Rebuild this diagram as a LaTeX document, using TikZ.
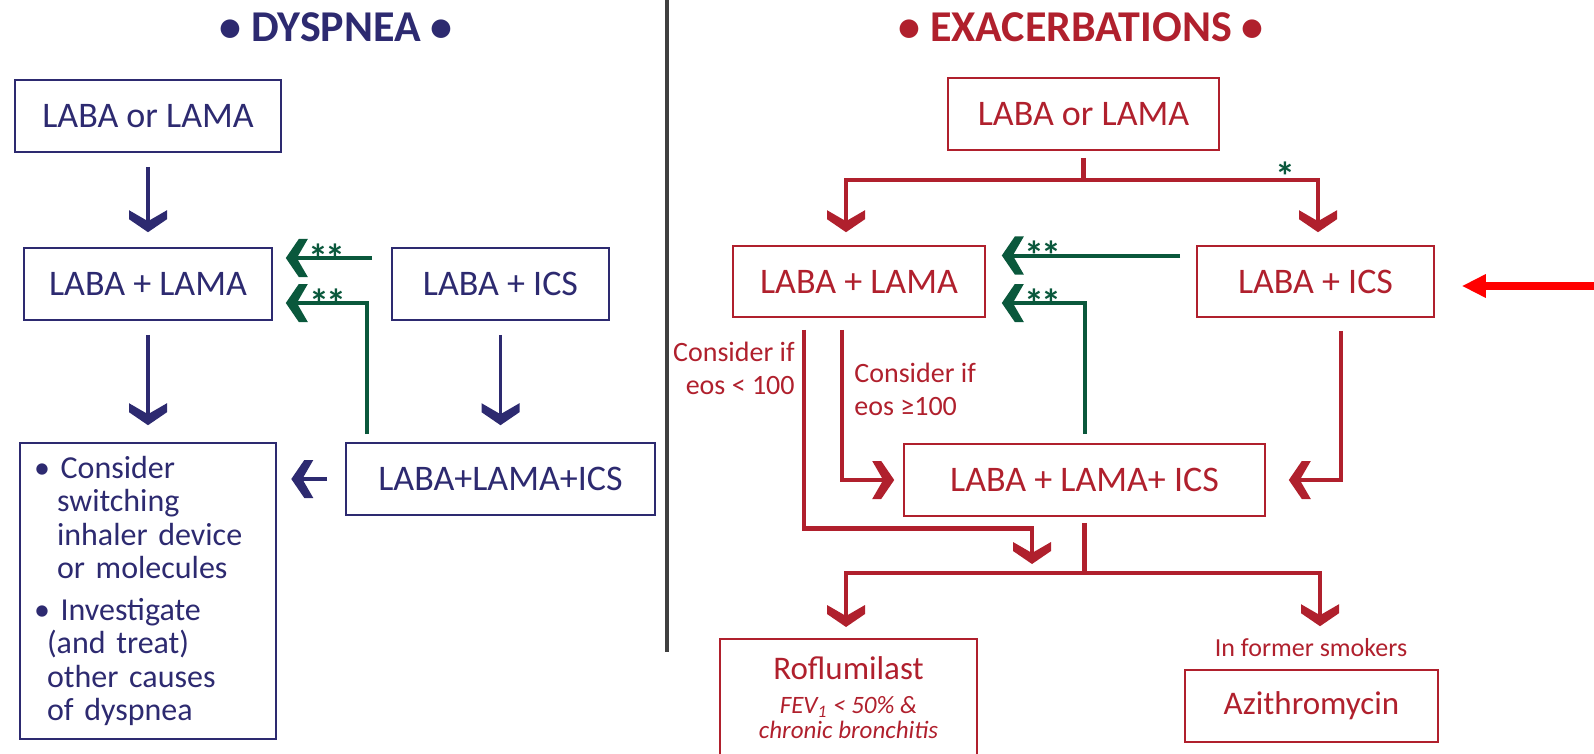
\documentclass[tikz,border=0pt]{standalone}
\usepackage{fontspec}
\setmainfont{Carlito}
\usetikzlibrary{arrows.meta}

\definecolor{dnavy}{RGB}{45,42,112}
\definecolor{ered}{RGB}{176,32,45}
\definecolor{sgreen}{RGB}{10,88,60}
\definecolor{divgray}{RGB}{64,64,64}
\definecolor{bigred}{RGB}{255,0,0}

\pgfdeclarearrow{
  name = Chev,
  setup code = {
    \pgfarrowssettipend{0pt}
    \pgfarrowssetlineend{-5.5pt}
    \pgfarrowssetbackend{-11pt}
    \pgfarrowssetvisualbackend{-11pt}
    \pgfarrowshullpoint{0pt}{0pt}
    \pgfarrowsupperhullpoint{-11pt}{9.5pt}
  },
  drawing code = {
    \pgfpathmoveto{\pgfqpoint{0pt}{0pt}}
    \pgfpathlineto{\pgfqpoint{-6.5pt}{9.5pt}}
    \pgfpathlineto{\pgfqpoint{-11pt}{9.5pt}}
    \pgfpathlineto{\pgfqpoint{-5.5pt}{0pt}}
    \pgfpathlineto{\pgfqpoint{-11pt}{-9.5pt}}
    \pgfpathlineto{\pgfqpoint{-6.5pt}{-9.5pt}}
    \pgfpathclose
    \pgfusepathqfill
  }
}

\newcommand{\twostars}{*\kern-1.5pt*}

\tikzset{
  dtitle/.style={text=dnavy, font=\bfseries\fontsize{22}{22}\selectfont},
  etitle/.style={text=ered, font=\bfseries\fontsize{22}{22}\selectfont},
  dbox/.style={draw=dnavy, line width=0.8pt, text=dnavy, minimum height=36pt,
    inner sep=0pt, font=\fontsize{18}{18}\selectfont},
  ebox/.style={draw=ered, line width=0.8pt, text=ered, minimum height=36pt,
    inner sep=0pt, font=\fontsize{18}{18}\selectfont},
  dlist/.style={dbox, minimum width=128pt, minimum height=148pt, inner xsep=7pt,
    text width=114pt, align=left, font=\fontsize{16}{16.75}\selectfont},
  dline/.style={color=dnavy, line width=1.8pt, -{Chev}},
  eline/.style={color=ered, line width=2.4pt},
  sline/.style={color=sgreen, line width=2pt, -{Chev}},
  stars/.style={text=sgreen, font=\bfseries\fontsize{20}{20}\selectfont,
    inner sep=0pt, anchor=base, yshift=-7pt},
  enote/.style={text=ered, inner sep=0pt, font=\fontsize{14}{16.5}\selectfont},
}

\begin{document}
\begin{tikzpicture}[x=0.5pt, y=-0.5pt]
  \useasboundingbox (0,0) rectangle (1594,754);
  \draw[divgray, line width=2pt] (667,0) -- (667,652);

  \node[dtitle] (dt) at (336,27) {• DYSPNEA •};
  \node[etitle] (et) at (1081,27) {• EXACERBATIONS •};

  % dyspnea
  \node[dbox, minimum width=133pt] (d1) at (148,116) {LABA or LAMA};
  \node[dbox, minimum width=124pt] (d2) at (148,284) {LABA + LAMA};
  \node[dbox, minimum width=108.5pt] (d3) at (500.5,284) {LABA + ICS};
  \node[dbox, minimum width=154.5pt] (d4) at (500.5,479) {LABA+LAMA+ICS};
  \node[dlist] (d5) at (148,591) {\textbullet\ Consider\\
    \hspace*{11.5pt}switching\\
    \hspace*{11.5pt}inhaler device\\
    \hspace*{11.5pt}or molecules\\[4pt]
    \textbullet\ Investigate\\
    \hspace*{6.5pt}(and treat)\\
    \hspace*{6.5pt}other causes\\
    \hspace*{6.5pt}of dyspnea};

  \draw[dline, shorten <=7pt, shorten >=7.5pt] (d1) -- (d2);
  \draw[dline, shorten <=7pt, shorten >=8.5pt] (d2) -- (d5);
  \draw[dline, shorten <=7pt, shorten >=8.5pt] (d3) -- (d4);
  \draw[dline, shorten <=9pt, shorten >=7.25pt] (d4.west) -- (d4.west -| d5.east);
  \draw[sline, shorten <=9.5pt, shorten >=6.5pt] ([yshift=13pt]d3.west)
    -- node[stars, pos=0.54] {\twostars} ([yshift=13pt]d3.west -| d2.east);
  \draw[sline, shorten <=4pt, shorten >=6.5pt] ([xshift=11pt]d4.north west)
    |- node[stars, pos=0.71] {\twostars} ([yshift=-9.5pt]d2.east);

  % exacerbations
  \node[ebox, minimum width=135.5pt] (e1) at (1083.5,114) {LABA or LAMA};
  \node[ebox, minimum width=126pt, minimum height=35.5pt] (e2) at (859,281.5) {LABA + LAMA};
  \node[ebox, minimum width=118.5pt, minimum height=35.5pt] (e3) at (1315.5,281.5) {LABA + ICS};
  \node[ebox, minimum width=180.5pt] (e4) at (1084.5,480) {LABA + LAMA+ ICS};
  \node[ebox, minimum width=128.5pt, anchor=north, inner ysep=9pt, text depth=20pt,
    align=center, font=\fontsize{12.5}{12.5}\selectfont] (e5) at (848.5,638)
    {{\fontsize{16.5}{16.5}\selectfont Roflumilast}\\[4.35pt]
     \itshape FEV\textsubscript{1} < 50\% \&\\
     \itshape chronic bronchitis};
  \node[ebox, minimum width=126.5pt, font=\fontsize{16.5}{16.5}\selectfont] (e6) at (1311.5,706) {Azithromycin};
  \node[enote, font=\fontsize{13}{13}\selectfont] (e7) at (1311,648) {In former smokers};

  \coordinate (ea) at (1083.5,180);
  \coordinate (eb) at (1084.5,573);
  \coordinate (ec) at (1032,573);
  \coordinate (ein) at (1594,286);

  \draw[eline, shorten <=3.5pt] (e1) -- (ea);
  \draw[eline, -{Chev}, shorten >=6.5pt] (ea) -| ([xshift=-6.5pt]e2.north);
  \draw[eline, -{Chev}, shorten >=6.5pt] (ea)
    -| node[stars, pos=0.43, yshift=1.5pt] {*} ([xshift=1.25pt]e3.north);
  \draw[sline, shorten <=8pt, shorten >=8pt] ([yshift=13pt]e3.west)
    -- node[stars, pos=0.73] {\twostars} ([yshift=13pt]e3.west -| e2.east);
  \draw[sline, shorten <=4.5pt, shorten >=8pt] (e4.north)
    |- node[stars, pos=0.71] {\twostars} ([yshift=-10.75pt]e2.east);
  \draw[eline, -{Chev}, shorten <=6pt, shorten >=4.5pt] ([xshift=-27.5pt]e2.south)
    -- node[enote, left=3.5pt, pos=0.24, align=right] {Consider if\\eos < 100} ++(0,211) -| (ec);
  \draw[eline, -{Chev}, shorten <=6pt, shorten >=4.5pt] ([xshift=-8.5pt]e2.south)
    |- node[enote, right=5pt, pos=0.22, align=left] {Consider if\\eos ≥100} (e4.west);
  \draw[eline, -{Chev}, shorten <=6.5pt, shorten >=11.5pt] ([xshift=12.75pt]e3.south) |- (e4.east);
  \draw[eline, shorten <=3pt] (e4) -- (eb);
  \draw[eline, -{Chev}, shorten >=5.5pt] (eb) -| ([xshift=-1.25pt]e5.north);
  \draw[eline, -{Chev}, shorten >=21.5pt] (eb) -| ([xshift=4.25pt]e6.north);
  \draw[bigred, line width=4pt, -{Triangle[length=12pt,width=11pt]}, shorten >=13.5pt]
    (ein) -- (ein -| e3.east);
\end{tikzpicture}
\end{document}
